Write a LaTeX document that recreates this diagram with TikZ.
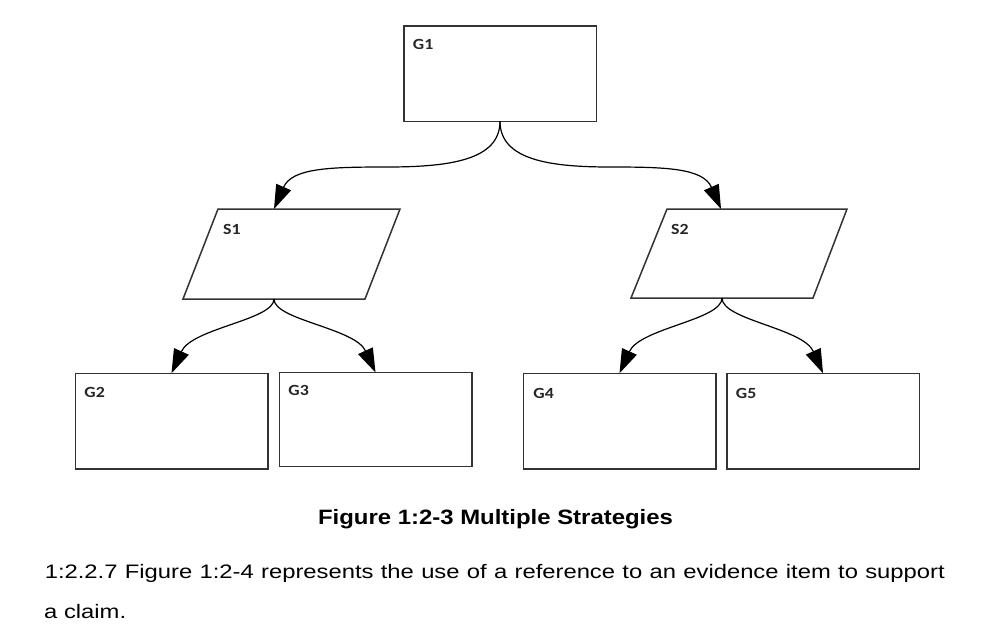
\documentclass[tikz,border=0pt]{standalone}
\usepackage{fontspec}
\usetikzlibrary{arrows.meta}
\newfontfamily\lblfont[FakeStretch=1.15]{Carlito}
\newfontfamily\capfont[FakeStretch=1.15]{Liberation Sans}
\newfontfamily\txtfont[FakeStretch=1.22]{Liberation Sans}
\begin{document}
\begin{tikzpicture}[x=1pt,y=-1pt,
  goal/.style={draw=black!80, line width=1.5pt, minimum width=192.5pt, minimum height=95.5pt, inner sep=0pt, outer sep=0pt},
  strat/.style={draw=black!80, line width=1.5pt, line join=miter},
  lbl/.style={anchor=base west, inner sep=0pt, font=\lblfont\bfseries\fontsize{15.5}{18}\selectfont, text=black!85},
  conn/.style={draw=black, line width=1.2pt, -{Triangle[length=24pt,width=16pt]}},
  txt/.style={anchor=base west, inner sep=0pt, font=\txtfont\fontsize{19.5}{40}\selectfont, text=black}]
\useasboundingbox[fill=white] (0,0) rectangle (1003,643);

% goals
\node[goal] (g1) at (500,73.5) {};
\node[goal] (g2) at (171.5,421) {};
\node[goal, minimum height=94pt] (g3) at (375.5,419.5) {};
\node[goal] (g4) at (619.5,421) {};
\node[goal] (g5) at (823,421) {};

\node[lbl] (g1l) at ([shift={(9,24)}]g1.north west) {G1};
\node[lbl] (g2l) at ([shift={(9,24)}]g2.north west) {G2};
\node[lbl] (g3l) at ([shift={(9,23)}]g3.north west) {G3};
\node[lbl] (g4l) at ([shift={(10,25)}]g4.north west) {G4};
\node[lbl] (g5l) at ([shift={(9,25)}]g5.north west) {G5};

% strategies
\draw[strat] (218,209) coordinate (s1tl) -- (400,209) -- (365,299) -- (183,299) -- cycle;
\draw[strat] (667,209) coordinate (s2tl) -- (847,209) -- (813,298) -- (631,298) -- cycle;
\coordinate (s1in) at (274,209);
\coordinate (s1out) at (274,299);
\coordinate (s2in) at (721,209);
\coordinate (s2out) at (722,298);
\node[lbl] (s1l) at ([shift={(5,25)}]s1tl) {S1};
\node[lbl] (s2l) at ([shift={(4,25)}]s2tl) {S2};

% connectors
\draw[conn] (g1.south) .. controls (500,160) and (450,167) .. (387,167)
  .. controls (330,167) and (292,168) .. (s1in);
\draw[conn] (g1.south) .. controls (500,160) and (550,167) .. (610,167)
  .. controls (665,167) and (703,168) .. (s2in);
\draw[conn] (s1out) .. controls (274,320) and (192,328) .. (g2.north);
\draw[conn] (s1out) .. controls (274,320) and (355,328) .. (g3.north);
\draw[conn] (s2out) .. controls (722,320) and (640,328) .. (g4.north);
\draw[conn] (s2out) .. controls (722,320) and (803,328) .. (g5.north);

% caption and text
\node[anchor=base, inner sep=0pt, font=\capfont\bfseries\fontsize{20.8}{24}\selectfont] (cap) at (495.5,524) {Figure 1:2-3 Multiple Strategies};
\node[txt] (p1) at (44.6,578) {\makebox[900pt][s]{1:2.2.7 Figure 1:2-4 represents the use of a reference to an evidence item to support}};
\node[txt] (p2) at (44,618) {a claim.};
\end{tikzpicture}
\end{document}
